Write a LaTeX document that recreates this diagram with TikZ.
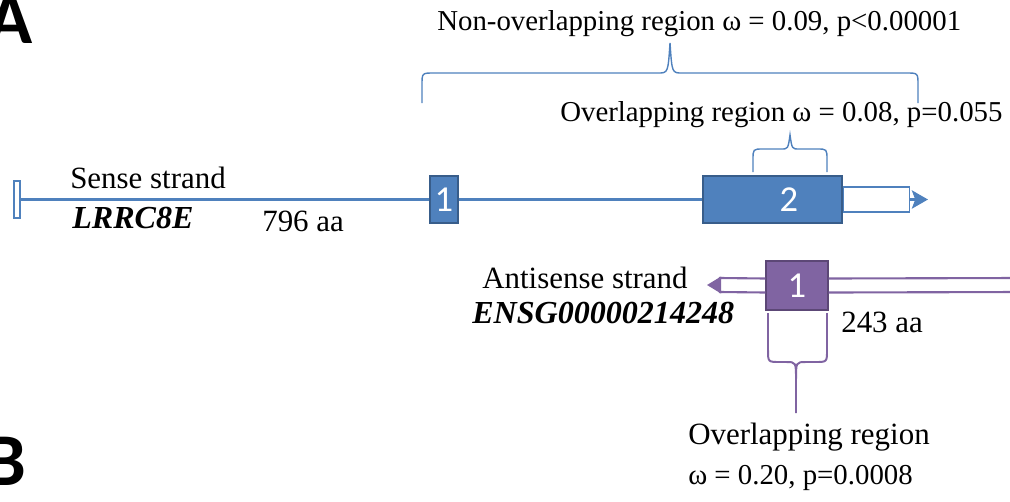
\documentclass[tikz,border=0pt]{standalone}
\usepackage{fontspec}
\setmainfont{Liberation Serif}
\newfontfamily\calfont{Carlito}
\usetikzlibrary{arrows.meta}

\definecolor{senseblue}{RGB}{79,129,189}
\definecolor{senseedge}{RGB}{56,93,138}
\definecolor{aspurple}{RGB}{128,100,162}
\definecolor{asedge}{RGB}{92,71,118}

\begin{document}
\begin{tikzpicture}[x=0.025cm,y=-0.025cm,
    txt/.style={anchor=base west,inner sep=0pt,font=\fontsize{20.5}{24}\selectfont},
    lbl/.style={anchor=base west,inner sep=0pt,font=\fontsize{22}{26}\selectfont},
    gene/.style={anchor=base west,inner sep=0pt,font=\bfseries\itshape\fontsize{22.8}{26}\selectfont},
    panel/.style={anchor=base east,inner sep=0pt,font=\calfont\bfseries\fontsize{53}{60}\selectfont},
    exon/.style={draw=senseedge,fill=senseblue,line width=0.8pt,inner sep=0pt,text=white,font=\calfont\fontsize{26}{30}\selectfont},
    asexon/.style={draw=asedge,fill=aspurple,line width=0.8pt,inner sep=0pt,text=white,font=\calfont\fontsize{26}{30}\selectfont},
    senseline/.style={senseblue,line width=2.2pt},
    asline/.style={aspurple,line width=1.5pt},
    bluebrace/.style={senseblue,line width=1pt},
    purplebrace/.style={aspurple,line width=1.4pt}]
    \useasboundingbox (0,0) rectangle (1010,501);
    \clip (0,0) rectangle (1010,501);

    % panel letters
    \node[panel] (lblA) at (33,43) {A};
    \node[panel] (lblB) at (27,485) {B};

    % sense strand
    \node[draw=senseblue,fill=white,line width=1pt,minimum width=0.15cm,minimum height=0.925cm,inner sep=0pt] (senseStart) at (17,199.5) {};
    \node[exon,minimum width=0.7cm,minimum height=1.175cm] (exonOne) at (444,199.5) {1};
    \node[exon,minimum width=3.475cm,minimum height=1.175cm] (exonTwo) at (772.5,199.5) {};
    \node[text=white,font=\calfont\fontsize{26}{30}\selectfont,inner sep=0pt] (exonTwoNum) at (789,200) {2};
    \node[draw=senseblue,fill=white,line width=1pt,minimum width=1.65cm,minimum height=0.625cm,inner sep=0pt,anchor=west] (utr) at (exonTwo.east) {};
    \coordinate (senseEnd) at (928,199.5);
    \draw[senseline] (senseStart) -- (exonOne);
    \draw[senseline] (exonOne) -- (exonTwo);
    \draw[senseline,-{Stealth[length=0.4cm,width=0.45cm,inset=0.08cm]}] (utr) -- (senseEnd);

    \node[lbl] (senseLbl) at (70,188) {Sense strand};
    \node[gene] (senseGene) at (72,228) {LRRC8E};
    \node[lbl] (senseLen) at (262,231) {796 aa};

    % braces over the sense strand
    \draw[bluebrace] (422,103) -- (422,85) .. controls (422,73) .. (434,73) -- (658,73)
        .. controls (668,73) .. (670,43) .. controls (672,73) .. (682,73) -- (906,73)
        .. controls (918,73) .. (918,85) -- (918,103);
    \node[txt] (nonOverlap) at (437,30) {Non-overlapping region ω = 0.09, p<0.00001};

    \draw[bluebrace] (753,172) -- (753,160) .. controls (753,149) .. (763,149) -- (781,149)
        .. controls (788,149) .. (790,135) .. controls (792,149) .. (799,149) -- (817,149)
        .. controls (827,149) .. (827,160) -- (827,172);
    \node[txt] (senseOverlap) at (560,121) {Overlapping region ω = 0.08, p=0.055};

    % antisense strand
    \node[asexon,minimum width=1.55cm,minimum height=1.225cm] (asExon) at (797,285.5) {1};
    \coordinate (asTail) at (720,285);
    \coordinate (asTip) at (707,285);
    \coordinate (asRight) at (1020,285);
    \draw[asline] ([yshift=0.175cm]asExon.west) -- ([yshift=0.175cm]asTail)
        -- ([yshift=-0.175cm]asTail) -- ([yshift=-0.175cm]asExon.west);
    \draw[asline,-{Stealth[length=0.35cm,width=0.42cm,inset=0.06cm]}] (asTail) -- (asTip);
    \draw[asline] ([yshift=0.175cm]asExon.east) -- ([yshift=0.175cm]asRight);
    \draw[asline] ([yshift=-0.175cm]asExon.east) -- ([yshift=-0.175cm]asRight);

    \node[lbl] (asLbl) at (482,288) {Antisense strand};
    \node[gene] (asGene) at (472,323) {ENSG00000214248};
    \node[lbl] (asLen) at (841,332) {243 aa};

    % brace under the antisense exon
    \draw[purplebrace] (768,313) -- (768,350) .. controls (768,362) .. (780,362) -- (786,362)
        .. controls (796,362) .. (796,380) -- (796,413) -- (796,380)
        .. controls (796,362) .. (806,362) -- (815,362) .. controls (827,362) .. (827,350) -- (827,313);
    \node[lbl] (asOverlap) at (688,444) {Overlapping region};
    \node[txt] (asStats) at (688,484) {ω = 0.20, p=0.0008};
\end{tikzpicture}
\end{document}
